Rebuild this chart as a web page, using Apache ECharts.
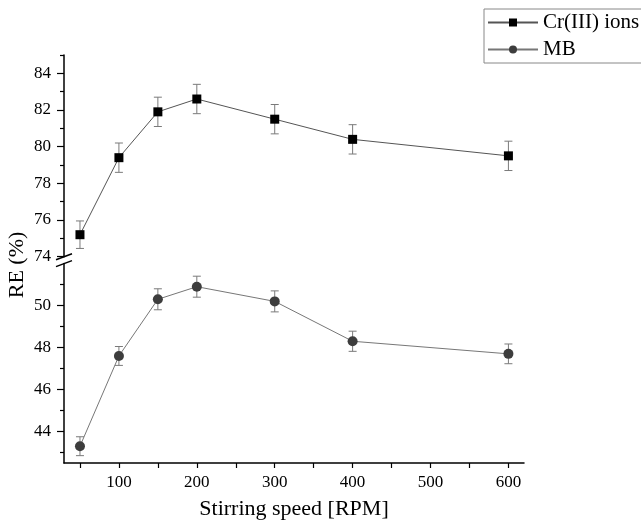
<!DOCTYPE html>
<html>
<head>
<meta charset="utf-8">
<script src="https://cdn.jsdelivr.net/npm/echarts@6/dist/echarts.min.js"></script>
<style>
html,body{margin:0;padding:0;background:#fff;}
#chart{width:641px;height:521px;}
</style>
</head>
<body>
<div id="chart"></div>
<script>
// ---- data ----
var speeds = [50, 100, 150, 200, 300, 400, 600];
var crValues = [75.2, 79.4, 81.9, 82.6, 81.5, 80.4, 79.5];
var crErrors = [0.75, 0.8, 0.8, 0.8, 0.8, 0.8, 0.8];
var mbValues = [43.3, 47.6, 50.3, 50.9, 50.2, 48.3, 47.7];
var mbErrors = [0.45, 0.45, 0.5, 0.5, 0.5, 0.48, 0.47];
var xTickValues = [50, 100, 150, 200, 250, 300, 350, 400, 450, 500, 550, 600];
var xLabelValues = [100, 200, 300, 400, 500, 600];
var upperMajor = [74, 76, 78, 80, 82, 84];
var upperMinor = [75, 77, 79, 81, 83, 85];
var lowerMajor = [44, 46, 48, 50];
var lowerMinor = [43, 45, 47, 49, 51];
var seriesNames = ['Cr(III) ions', 'MB'];
var xTitle = 'Stirring speed [RPM]';
var yTitle = 'RE (%)';

var FONT = 'Liberation Serif';
var chart = echarts.init(document.getElementById('chart'), null, {renderer: 'canvas'});

function pairs(vals, errs) {
  return speeds.map(function (s, i) { return errs ? [s, vals[i], errs[i]] : [s, vals[i]]; });
}
function errRender(params, api) {
  var x = api.value(0), y = api.value(1), e = api.value(2);
  var hi = api.coord([x, y + e]), lo = api.coord([x, y - e]);
  var w = 4;
  var st = {stroke: '#7a7a7a', lineWidth: 1};
  return {type: 'group', children: [
    {type: 'line', shape: {x1: hi[0], y1: hi[1], x2: lo[0], y2: lo[1]}, style: st},
    {type: 'line', shape: {x1: hi[0] - w, y1: hi[1], x2: hi[0] + w, y2: hi[1]}, style: st},
    {type: 'line', shape: {x1: lo[0] - w, y1: lo[1], x2: lo[0] + w, y2: lo[1]}, style: st}
  ]};
}

var xMin = 29.5, xMax = 620;
var axisLineStyle = {color: '#000', width: 1.5};

function xAxisDef(gridIndex, visible) {
  return {
    type: 'value', gridIndex: gridIndex, min: xMin, max: xMax,
    show: visible,
    name: visible ? xTitle : '', nameLocation: 'middle', nameGap: 35,
    nameTextStyle: {fontFamily: FONT, fontSize: 22, color: '#000'},
    axisLine: {show: true, onZero: false, lineStyle: axisLineStyle},
    axisTick: {show: true, length: 5, customValues: xTickValues, lineStyle: {color: '#000', width: 1.2}},
    axisLabel: {show: true, customValues: xLabelValues, margin: 11, fontFamily: FONT, fontSize: 17, color: '#000'},
    splitLine: {show: false}
  };
}
function yAxisDef(gridIndex, min, max, major, minor, isMinor) {
  return {
    type: 'value', gridIndex: gridIndex, min: min, max: max, position: 'left',
    axisLine: {show: !isMinor, onZero: false, lineStyle: axisLineStyle},
    axisTick: {show: true, length: isMinor ? 4 : 7, customValues: isMinor ? minor : major,
               lineStyle: {color: '#000', width: 1.2}},
    axisLabel: {show: !isMinor, customValues: major, margin: 13, fontFamily: FONT, fontSize: 17, color: '#000'},
    splitLine: {show: false}
  };
}

var option = {
  backgroundColor: '#fff',
  animation: false,
  grid: [
    {left: 64, width: 460, top: 55, height: 201.7},
    {left: 64, width: 460, top: 263.6, height: 201.4}
  ],
  xAxis: [xAxisDef(0, false), xAxisDef(1, true)],
  yAxis: [
    yAxisDef(0, 74, 85, upperMajor, upperMinor, false),
    yAxisDef(0, 74, 85, upperMajor, upperMinor, true),
    yAxisDef(1, 42.5, 52, lowerMajor, lowerMinor, false),
    yAxisDef(1, 42.5, 52, lowerMajor, lowerMinor, true)
  ],
  legend: {
    data: seriesNames,
    orient: 'vertical',
    left: 484, top: 9,
    padding: [3, 40, 3, 3],
    itemGap: 6,
    itemWidth: 50, itemHeight: 10,
    borderColor: '#888', borderWidth: 1,
    textStyle: {fontFamily: FONT, fontSize: 21, color: '#000'}
  },
  series: [
    {type: 'custom', name: 'crErr', xAxisIndex: 0, yAxisIndex: 0, renderItem: errRender,
     data: pairs(crValues, crErrors), z: 1, silent: true},
    {type: 'custom', name: 'mbErr', xAxisIndex: 1, yAxisIndex: 2, renderItem: errRender,
     data: pairs(mbValues, mbErrors), z: 1, silent: true},
    {type: 'line', name: seriesNames[0], xAxisIndex: 0, yAxisIndex: 0,
     data: pairs(crValues), symbol: 'rect', symbolSize: 9,
     itemStyle: {color: '#000'}, lineStyle: {color: '#555', width: 1}, z: 3},
    {type: 'line', name: seriesNames[1], xAxisIndex: 1, yAxisIndex: 2,
     data: pairs(mbValues), symbol: 'circle', symbolSize: 10,
     itemStyle: {color: '#3d3d3d'}, lineStyle: {color: '#777', width: 1}, z: 3}
  ],
  graphic: [
    {type: 'text', x: 17, y: 265, rotation: Math.PI / 2,
     style: {text: yTitle, font: '22px "' + FONT + '"', fill: '#000', align: 'center', verticalAlign: 'middle'}},
    {type: 'line', shape: {x1: 56, y1: 259.7, x2: 72, y2: 253.7}, style: {stroke: '#000', lineWidth: 1.5}, z: 100},
    {type: 'line', shape: {x1: 56, y1: 266.6, x2: 72, y2: 260.6}, style: {stroke: '#000', lineWidth: 1.5}, z: 100}
  ]
};
chart.setOption(option);
</script>
</body>
</html>
